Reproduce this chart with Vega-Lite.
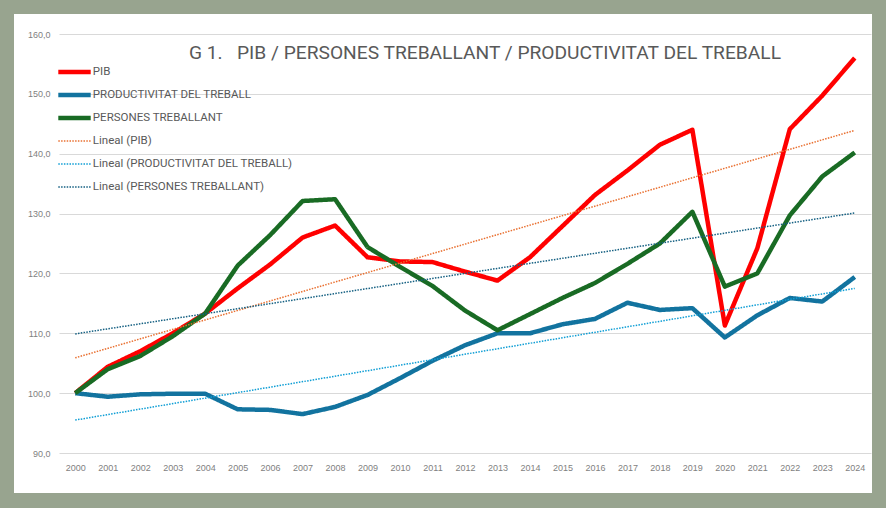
{
  "$schema": "https://vega.github.io/schema/vega-lite/v6.json",
  "width": 812,
  "height": 419,
  "autosize": {"type": "none"},
  "padding": {"left": 59, "top": 34, "right": 15, "bottom": 55},
  "background": "white",
  "config": {"view": {"stroke": null}},
  "title": {
    "text": "G 1.\u00a0\u00a0 PIB / PERSONES TREBALLANT / PRODUCTIVITAT DEL TREBALL",
    "frame": "group",
    "anchor": "middle",
    "baseline": "alphabetic",
    "offset": -92,
    "dx": 20,
    "font": "Roboto",
    "fontSize": 19.2,
    "fontWeight": "normal",
    "color": "#595959"
  },
  "data": {
    "values": [
      {"year": 2000, "series": "PIB", "value": 100.0},
      {"year": 2001, "series": "PIB", "value": 104.4},
      {"year": 2002, "series": "PIB", "value": 107.0},
      {"year": 2003, "series": "PIB", "value": 110.0},
      {"year": 2004, "series": "PIB", "value": 113.3},
      {"year": 2005, "series": "PIB", "value": 117.5},
      {"year": 2006, "series": "PIB", "value": 121.5},
      {"year": 2007, "series": "PIB", "value": 126.0},
      {"year": 2008, "series": "PIB", "value": 128.0},
      {"year": 2009, "series": "PIB", "value": 122.7},
      {"year": 2010, "series": "PIB", "value": 122.0},
      {"year": 2011, "series": "PIB", "value": 121.9},
      {"year": 2012, "series": "PIB", "value": 120.3},
      {"year": 2013, "series": "PIB", "value": 118.8},
      {"year": 2014, "series": "PIB", "value": 122.7},
      {"year": 2015, "series": "PIB", "value": 127.9},
      {"year": 2016, "series": "PIB", "value": 133.1},
      {"year": 2017, "series": "PIB", "value": 137.2},
      {"year": 2018, "series": "PIB", "value": 141.5},
      {"year": 2019, "series": "PIB", "value": 144.0},
      {"year": 2020, "series": "PIB", "value": 111.3},
      {"year": 2021, "series": "PIB", "value": 124.2},
      {"year": 2022, "series": "PIB", "value": 144.1},
      {"year": 2023, "series": "PIB", "value": 149.7},
      {"year": 2024, "series": "PIB", "value": 156.0},
      {"year": 2000, "series": "PRODUCTIVITAT DEL TREBALL", "value": 100.0},
      {"year": 2001, "series": "PRODUCTIVITAT DEL TREBALL", "value": 99.4},
      {"year": 2002, "series": "PRODUCTIVITAT DEL TREBALL", "value": 99.8},
      {"year": 2003, "series": "PRODUCTIVITAT DEL TREBALL", "value": 99.9},
      {"year": 2004, "series": "PRODUCTIVITAT DEL TREBALL", "value": 99.9},
      {"year": 2005, "series": "PRODUCTIVITAT DEL TREBALL", "value": 97.3},
      {"year": 2006, "series": "PRODUCTIVITAT DEL TREBALL", "value": 97.2},
      {"year": 2007, "series": "PRODUCTIVITAT DEL TREBALL", "value": 96.5},
      {"year": 2008, "series": "PRODUCTIVITAT DEL TREBALL", "value": 97.7},
      {"year": 2009, "series": "PRODUCTIVITAT DEL TREBALL", "value": 99.7},
      {"year": 2010, "series": "PRODUCTIVITAT DEL TREBALL", "value": 102.5},
      {"year": 2011, "series": "PRODUCTIVITAT DEL TREBALL", "value": 105.4},
      {"year": 2012, "series": "PRODUCTIVITAT DEL TREBALL", "value": 108.0},
      {"year": 2013, "series": "PRODUCTIVITAT DEL TREBALL", "value": 110.0},
      {"year": 2014, "series": "PRODUCTIVITAT DEL TREBALL", "value": 110.0},
      {"year": 2015, "series": "PRODUCTIVITAT DEL TREBALL", "value": 111.5},
      {"year": 2016, "series": "PRODUCTIVITAT DEL TREBALL", "value": 112.4},
      {"year": 2017, "series": "PRODUCTIVITAT DEL TREBALL", "value": 115.1},
      {"year": 2018, "series": "PRODUCTIVITAT DEL TREBALL", "value": 113.9},
      {"year": 2019, "series": "PRODUCTIVITAT DEL TREBALL", "value": 114.2},
      {"year": 2020, "series": "PRODUCTIVITAT DEL TREBALL", "value": 109.3},
      {"year": 2021, "series": "PRODUCTIVITAT DEL TREBALL", "value": 113.0},
      {"year": 2022, "series": "PRODUCTIVITAT DEL TREBALL", "value": 115.9},
      {"year": 2023, "series": "PRODUCTIVITAT DEL TREBALL", "value": 115.3},
      {"year": 2024, "series": "PRODUCTIVITAT DEL TREBALL", "value": 119.4},
      {"year": 2000, "series": "PERSONES TREBALLANT", "value": 100.0},
      {"year": 2001, "series": "PERSONES TREBALLANT", "value": 104.0},
      {"year": 2002, "series": "PERSONES TREBALLANT", "value": 106.2},
      {"year": 2003, "series": "PERSONES TREBALLANT", "value": 109.5},
      {"year": 2004, "series": "PERSONES TREBALLANT", "value": 113.3},
      {"year": 2005, "series": "PERSONES TREBALLANT", "value": 121.3},
      {"year": 2006, "series": "PERSONES TREBALLANT", "value": 126.4},
      {"year": 2007, "series": "PERSONES TREBALLANT", "value": 132.1},
      {"year": 2008, "series": "PERSONES TREBALLANT", "value": 132.4},
      {"year": 2009, "series": "PERSONES TREBALLANT", "value": 124.4},
      {"year": 2010, "series": "PERSONES TREBALLANT", "value": 121.1},
      {"year": 2011, "series": "PERSONES TREBALLANT", "value": 117.9},
      {"year": 2012, "series": "PERSONES TREBALLANT", "value": 113.8},
      {"year": 2013, "series": "PERSONES TREBALLANT", "value": 110.5},
      {"year": 2014, "series": "PERSONES TREBALLANT", "value": 113.2},
      {"year": 2015, "series": "PERSONES TREBALLANT", "value": 115.9},
      {"year": 2016, "series": "PERSONES TREBALLANT", "value": 118.4},
      {"year": 2017, "series": "PERSONES TREBALLANT", "value": 121.6},
      {"year": 2018, "series": "PERSONES TREBALLANT", "value": 125.0},
      {"year": 2019, "series": "PERSONES TREBALLANT", "value": 130.3},
      {"year": 2020, "series": "PERSONES TREBALLANT", "value": 117.8},
      {"year": 2021, "series": "PERSONES TREBALLANT", "value": 120.0},
      {"year": 2022, "series": "PERSONES TREBALLANT", "value": 129.7},
      {"year": 2023, "series": "PERSONES TREBALLANT", "value": 136.2},
      {"year": 2024, "series": "PERSONES TREBALLANT", "value": 140.2},
      {"year": 2000, "series": "Lineal (PIB)", "value": 105.9},
      {"year": 2024, "series": "Lineal (PIB)", "value": 143.9},
      {"year": 2000, "series": "Lineal (PRODUCTIVITAT DEL TREBALL)", "value": 95.5},
      {"year": 2024, "series": "Lineal (PRODUCTIVITAT DEL TREBALL)", "value": 117.5},
      {"year": 2000, "series": "Lineal (PERSONES TREBALLANT)", "value": 109.9},
      {"year": 2024, "series": "Lineal (PERSONES TREBALLANT)", "value": 130.1}
    ]
  },
  "layer": [
    {
      "mark": {"type": "line", "strokeJoin": "round"},
      "encoding": {
        "x": {
          "field": "year",
          "type": "quantitative",
          "scale": {"domain": [1999.5, 2024.5], "nice": false, "zero": false},
          "axis": {
            "title": null,
            "values": [2000, 2001, 2002, 2003, 2004, 2005, 2006, 2007, 2008, 2009, 2010, 2011, 2012, 2013, 2014, 2015, 2016, 2017, 2018, 2019, 2020, 2021, 2022, 2023, 2024],
            "tickCount": 40,
            "format": "d",
            "grid": false,
            "ticks": false,
            "domain": false,
            "labelPadding": 10,
            "labelFont": "Liberation Sans",
            "labelFontSize": 9,
            "labelColor": "#7f7f7f",
            "labelFlush": false,
            "labelOverlap": false
          }
        },
        "y": {
          "field": "value",
          "type": "quantitative",
          "scale": {"domain": [90, 160], "nice": false, "zero": false},
          "axis": {
            "title": null,
            "values": [90, 100, 110, 120, 130, 140, 150, 160],
            "tickCount": 10,
            "labelExpr": "replace(format(datum.value, '.1f'), '.', ',')",
            "grid": true,
            "gridColor": "#d9d9d9",
            "gridWidth": 1.2,
            "ticks": false,
            "domain": false,
            "labelPadding": 9,
            "labelFont": "Liberation Sans",
            "labelFontSize": 9,
            "labelColor": "#7f7f7f",
            "labelFlush": false
          }
        },
        "color": {
          "field": "series",
          "type": "nominal",
          "scale": {
            "domain": ["PIB", "PRODUCTIVITAT DEL TREBALL", "PERSONES TREBALLANT", "Lineal (PIB)", "Lineal (PRODUCTIVITAT DEL TREBALL)", "Lineal (PERSONES TREBALLANT)"],
            "range": ["#ff0000", "#12739f", "#196b24", "#e97132", "#0f9ed5", "#156082"]
          },
          "legend": {
            "title": null,
            "orient": "none",
            "legendX": -6.45,
            "legendY": 26.5,
            "symbolType": "M0,0H32.4",
            "symbolSize": 4,
            "symbolFillColor": "transparent",
            "labelOffset": 28.8,
            "rowPadding": 0,
            "clipHeight": 23,
            "labelFont": "Roboto",
            "labelFontSize": 11.5,
            "labelColor": "#595959",
            "labelLimit": 400
          }
        },
        "strokeDash": {
          "field": "series",
          "type": "nominal",
          "scale": {
            "domain": ["PIB", "PRODUCTIVITAT DEL TREBALL", "PERSONES TREBALLANT", "Lineal (PIB)", "Lineal (PRODUCTIVITAT DEL TREBALL)", "Lineal (PERSONES TREBALLANT)"],
            "range": [[1, 0], [1, 0], [1, 0], [1.5, 1.3], [1.5, 1.3], [1.5, 1.3]]
          }
        },
        "strokeWidth": {
          "field": "series",
          "type": "nominal",
          "scale": {
            "type": "ordinal",
            "domain": ["PIB", "PRODUCTIVITAT DEL TREBALL", "PERSONES TREBALLANT", "Lineal (PIB)", "Lineal (PRODUCTIVITAT DEL TREBALL)", "Lineal (PERSONES TREBALLANT)"],
            "range": [4.5, 4.5, 4.5, 1.5, 1.5, 1.5]
          }
        }
      }
    },
    {
      "data": {"values": [{}]},
      "mark": {"type": "rect", "filled": false, "stroke": "#98a48f", "strokeWidth": 28},
      "encoding": {
        "x": {"datum": 1997.6835, "type": "quantitative"},
        "x2": {"datum": 2024.962},
        "y": {"datum": 165.68, "type": "quantitative"},
        "y2": {"datum": 80.98}
      }
    }
  ]
}
